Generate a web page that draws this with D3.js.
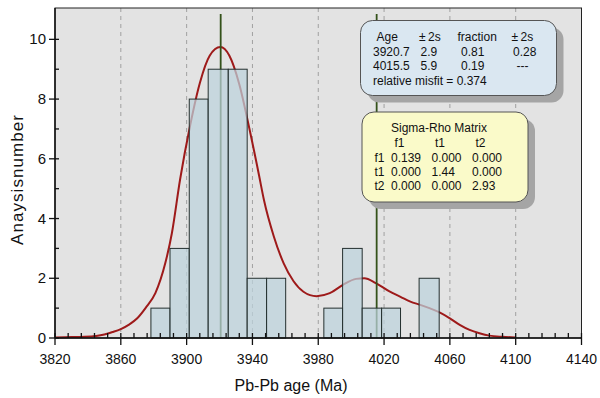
<!DOCTYPE html>
<html><head><meta charset="utf-8">
<script src="https://cdn.jsdelivr.net/npm/d3@7"></script>
<style>body{margin:0;background:#fff}svg{display:block;font-family:"Liberation Sans",Arial,sans-serif}</style>
</head><body><svg id="c" width="600" height="398"></svg>
<script>
// ---- data ----
const binLo = [3878.3, 3889.9, 3901.6, 3913.1, 3925.3, 3936.8, 3948.6, 3983.4, 3994.8, 4006.7, 4018.5, 4041.3];
const binHi = [3889.9, 3901.6, 3913.1, 3925.3, 3936.8, 3948.6, 3960.2, 3994.8, 4006.7, 4018.5, 4030.0, 4053.5];
const binCount = [1, 3, 8, 9, 9, 2, 2, 1, 3, 1, 1, 2];
const curveAge = [3820, 3830, 3838, 3845, 3850, 3855, 3860, 3865, 3870, 3875, 3881, 3887, 3891, 3896, 3902, 3908, 3914, 3920.5, 3926, 3932, 3938, 3944, 3947, 3953, 3959, 3965, 3971, 3979, 3987, 3995, 4003, 4008, 4015, 4023, 4030, 4036, 4042, 4048, 4054, 4060, 4066, 4072, 4078, 4084, 4092, 4100];
const curveVal = [0.02, 0.03, 0.04, 0.07, 0.12, 0.2, 0.3, 0.45, 0.66, 1.0, 1.5, 2.5, 3.5, 5.3, 7.08, 8.53, 9.45, 9.74, 9.45, 8.5, 7.05, 5.45, 4.62, 3.4, 2.5, 1.9, 1.55, 1.4, 1.5, 1.78, 1.98, 2.0, 1.84, 1.57, 1.38, 1.22, 1.11, 0.99, 0.85, 0.66, 0.44, 0.27, 0.16, 0.08, 0.04, 0.02];
const peakAges = [3920.7, 4015.5];
const xMajorTicks = [3820, 3860, 3900, 3940, 3980, 4020, 4060, 4100, 4140];
const yMajorTicks = [0, 2, 4, 6, 8, 10];
const gridAges = [3860, 3900, 3940, 3980, 4020, 4060, 4100];
const xTitle = "Pb-Pb age (Ma)";
const yTitle = "Anaysisnumber";
const fitHeader = ["Age", "\u00b1\u20092s", "fraction", "\u00b1\u20092s"];
const fitRows = [["3920.7", "2.9", "0.81", "0.28"], ["4015.5", "5.9", "0.19", "---"]];
const misfitText = "relative misfit = 0.374";
const matrixTitle = "Sigma-Rho Matrix";
const matrixHeader = ["f1", "t1", "t2"];
const matrixRows = [["f1", "0.139", "0.000", "0.000"], ["t1", "0.000", "1.44", "0.000"], ["t2", "0.000", "0.000", "2.93"]];

// ---- layout ----
const L = 55, R = 581.5, T = 8, B = 338;
const svg = d3.select("#c");
const x = d3.scaleLinear().domain([3820, 4140]).range([L, R]);
const y = d3.scaleLinear().domain([0, 11.05]).range([B, T]);

svg.append("rect").attr("x", L).attr("y", T).attr("width", R - L).attr("height", B - T).attr("fill", "#e3e3e3");

// grid
svg.append("g").selectAll("line").data(gridAges).join("line")
  .attr("x1", d => x(d)).attr("x2", d => x(d)).attr("y1", T).attr("y2", B)
  .attr("stroke", "#a0a0a0").attr("stroke-dasharray", "4,4").attr("stroke-width", 1);

// curve
const pts = curveAge.map((a, i) => [a, curveVal[i]]);
svg.append("path").datum(pts)
  .attr("d", d3.line().x(d => x(d[0])).y(d => y(d[1])).curve(d3.curveMonotoneX))
  .attr("fill", "none").attr("stroke", "#9e1a1a").attr("stroke-width", 2);

// peak lines
svg.append("g").selectAll("line").data(peakAges).join("line")
  .attr("x1", d => x(d)).attr("x2", d => x(d)).attr("y1", 14).attr("y2", B)
  .attr("stroke", "#34521a").attr("stroke-width", 1.8);

// bars
svg.append("g").selectAll("rect").data(binCount).join("rect")
  .attr("x", (d, i) => x(binLo[i])).attr("width", (d, i) => x(binHi[i]) - x(binLo[i]))
  .attr("y", d => y(d)).attr("height", d => y(0) - y(d))
  .attr("fill", "rgb(188,211,221)").attr("fill-opacity", 0.72)
  .attr("stroke", "#25302f").attr("stroke-width", 1);

// frame
svg.append("rect").attr("x", L).attr("y", T).attr("width", R - L).attr("height", B - T)
  .attr("fill", "none").attr("stroke", "#222").attr("stroke-width", 1);

// x axis ticks
const xMinor = d3.range(3820, 4141, 8).filter(v => !xMajorTicks.includes(v));
const ax = svg.append("g").attr("stroke", "#111").attr("stroke-width", 1.3);
ax.selectAll(".xm").data(xMinor).join("line").attr("class", "xm")
  .attr("x1", d => x(d)).attr("x2", d => x(d)).attr("y1", B).attr("y2", B - 5);
ax.selectAll(".xM").data(xMajorTicks).join("line").attr("class", "xM")
  .attr("x1", d => x(d)).attr("x2", d => x(d)).attr("y1", B - 5).attr("y2", B + 7);
const yMinor = d3.range(1, 11, 2);
ax.selectAll(".ym").data(yMinor).join("line").attr("class", "ym")
  .attr("x1", L).attr("x2", L + 4).attr("y1", d => y(d)).attr("y2", d => y(d));
ax.selectAll(".yM").data(yMajorTicks).join("line").attr("class", "yM")
  .attr("x1", L - 6).attr("x2", L + 4).attr("y1", d => y(d)).attr("y2", d => y(d));
svg.append("line").attr("x1", L).attr("x2", R).attr("y1", B).attr("y2", B).attr("stroke", "#111").attr("stroke-width", 1.5);
svg.append("line").attr("x1", L).attr("x2", L).attr("y1", T).attr("y2", B).attr("stroke", "#111").attr("stroke-width", 1.5);

svg.append("g").selectAll("text").data(xMajorTicks).join("text")
  .attr("x", d => x(d)).attr("y", 364).attr("text-anchor", "middle")
  .attr("font-size", 14).attr("fill", "#111").text(d => d);
svg.append("g").selectAll("text").data(yMajorTicks).join("text")
  .attr("x", 46).attr("y", d => y(d) + 5).attr("text-anchor", "end")
  .attr("font-size", 15).attr("fill", "#111").text(d => d);

svg.append("text").attr("x", 291).attr("y", 391).attr("text-anchor", "middle")
  .attr("font-size", 16).attr("fill", "#111").text(xTitle);
svg.append("text").attr("transform", "translate(23,180) rotate(-90)").attr("text-anchor", "middle")
  .attr("font-size", 17).attr("textLength", 130).attr("lengthAdjust", "spacing")
  .attr("fill", "#111").text(yTitle);

// legend boxes
function box(x0, y0, w, h, fill) {
  svg.append("rect").attr("x", x0 + 7).attr("y", y0 + 7).attr("width", w).attr("height", h)
    .attr("rx", 12).attr("fill", "#a5a5a5");
  svg.append("rect").attr("x", x0).attr("y", y0).attr("width", w).attr("height", h)
    .attr("rx", 12).attr("fill", fill).attr("stroke", "#555").attr("stroke-width", 1);
}
box(360.5, 20.5, 196, 75, "#dae7f1");
box(362, 112, 166, 90, "#fafac9");

const t1 = svg.append("g").attr("font-size", 12).attr("fill", "#111");
const hx = [376.5, 419, 457.5, 511.5];
t1.selectAll(".h").data(fitHeader).join("text").attr("class", "h")
  .attr("x", (d, i) => hx[i]).attr("y", 41).text(d => d);
const rx = [373, 420.5, 461, 513];
fitRows.forEach((row, r) => {
  t1.selectAll(".r" + r).data(row).join("text").attr("class", "r" + r)
    .attr("x", (d, i) => i === 3 && d === "---" ? 516.5 : rx[i]).attr("y", 55.5 + r * 14.5).text(d => d);
});
t1.append("text").attr("x", 373).attr("y", 84.5).text(misfitText);

const t2 = svg.append("g").attr("font-size", 12).attr("fill", "#111");
t2.append("text").attr("x", 391).attr("y", 132).text(matrixTitle);
const mx = [394.5, 435, 475.5];
t2.selectAll(".mh").data(matrixHeader).join("text").attr("class", "mh")
  .attr("x", (d, i) => mx[i]).attr("y", 147).text(d => d);
const mrx = [374.5, 391, 431.5, 472];
matrixRows.forEach((row, r) => {
  t2.selectAll(".m" + r).data(row).join("text").attr("class", "m" + r)
    .attr("x", (d, i) => mrx[i]).attr("y", 161.5 + r * 14.2).text(d => d);
});
</script></body></html>
